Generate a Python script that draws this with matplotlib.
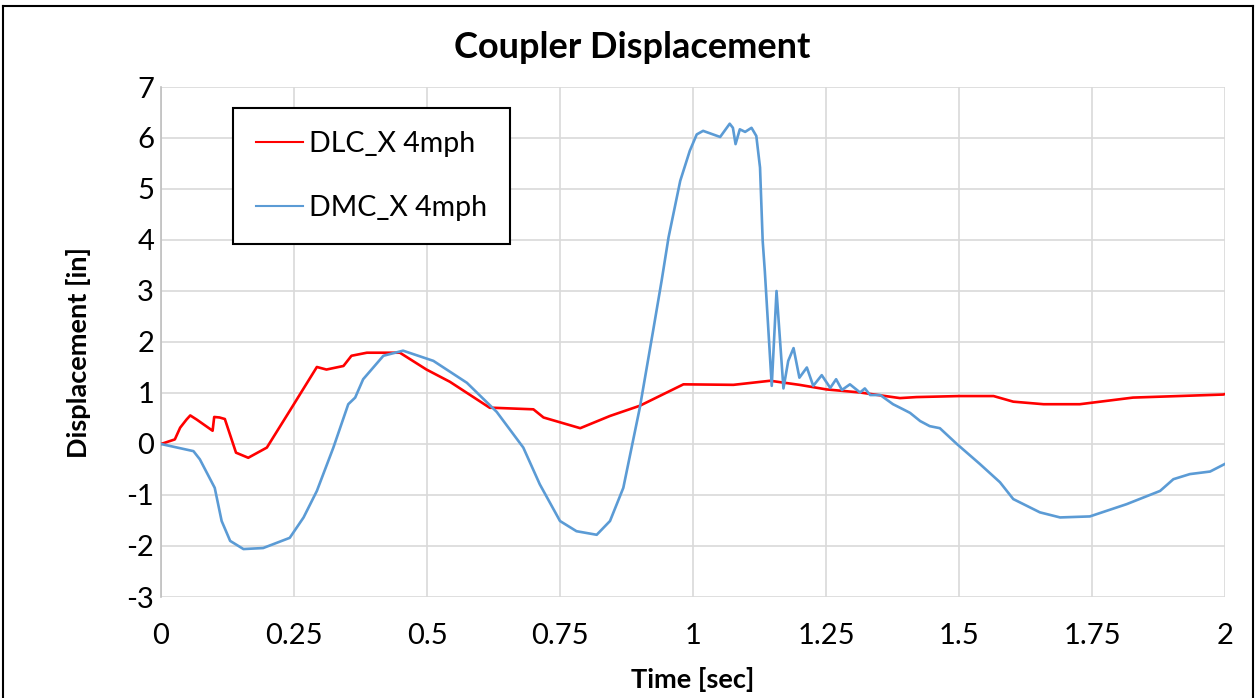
import matplotlib
matplotlib.use("Agg")
import matplotlib.pyplot as plt
from matplotlib.lines import Line2D

plt.rcParams['font.family'] = ['Lato', 'DejaVu Sans']
plt.rcParams['axes.unicode_minus'] = False

# ---- data ----
dlc_t = [0, 0.026, 0.036, 0.048, 0.055, 0.067, 0.097, 0.10, 0.11, 0.12, 0.141, 0.164,
         0.199, 0.242, 0.293, 0.311, 0.343, 0.358, 0.387, 0.449, 0.499, 0.543, 0.618,
         0.625, 0.70, 0.719, 0.788, 0.844, 0.90, 0.982, 1.076, 1.145, 1.20, 1.251,
         1.314, 1.389, 1.42, 1.50, 1.565, 1.602, 1.659, 1.727, 1.827, 1.997, 2.0]
dlc_y = [0, 0.09, 0.32, 0.48, 0.56, 0.48, 0.26, 0.53, 0.52, 0.49, -0.17, -0.27,
         -0.07, 0.65, 1.51, 1.46, 1.53, 1.73, 1.79, 1.79, 1.46, 1.22, 0.71,
         0.71, 0.68, 0.52, 0.31, 0.55, 0.75, 1.17, 1.16, 1.24, 1.16, 1.07,
         1.01, 0.90, 0.92, 0.94, 0.94, 0.83, 0.78, 0.78, 0.91, 0.97, 0.98]

dmc_t = [0, 0.061, 0.073, 0.101, 0.114, 0.13, 0.155, 0.192, 0.242, 0.268, 0.293, 0.324,
         0.352, 0.365, 0.38, 0.418, 0.455, 0.512, 0.575, 0.631, 0.681, 0.712, 0.75,
         0.781, 0.819, 0.844, 0.869, 0.90, 0.925, 0.941, 0.954, 0.976, 0.994, 1.007,
         1.019, 1.051, 1.069, 1.075, 1.080, 1.088, 1.098, 1.110, 1.119, 1.126, 1.131,
         1.135, 1.148, 1.157, 1.17, 1.179, 1.189, 1.200, 1.214, 1.226, 1.242, 1.258,
         1.269, 1.280, 1.295, 1.314, 1.323, 1.333, 1.352, 1.376, 1.395, 1.408, 1.427,
         1.445, 1.464, 1.496, 1.539, 1.577, 1.602, 1.652, 1.690, 1.746, 1.815, 1.878,
         1.903, 1.934, 1.972, 2.0]
dmc_y = [0, -0.14, -0.30, -0.86, -1.51, -1.90, -2.06, -2.04, -1.84, -1.44, -0.92, -0.07,
         0.78, 0.91, 1.27, 1.73, 1.83, 1.63, 1.20, 0.63, -0.07, -0.79, -1.51,
         -1.71, -1.78, -1.51, -0.86, 0.71, 2.22, 3.20, 4.05, 5.16, 5.75, 6.07,
         6.14, 6.02, 6.28, 6.20, 5.88, 6.17, 6.12, 6.20, 6.04, 5.42, 3.98,
         3.39, 1.14, 3.0, 1.09, 1.63, 1.88, 1.30, 1.50, 1.14, 1.35, 1.10,
         1.27, 1.06, 1.17, 1.01, 1.09, 0.96, 0.96, 0.78, 0.68, 0.61, 0.45,
         0.35, 0.31, 0.0, -0.39, -0.75, -1.08, -1.34, -1.44, -1.42, -1.18, -0.92,
         -0.69, -0.59, -0.54, -0.39]

x_ticks = [0, 0.25, 0.5, 0.75, 1, 1.25, 1.5, 1.75, 2]
x_labels = ["0", "0.25", "0.5", "0.75", "1", "1.25", "1.5", "1.75", "2"]
y_ticks = list(range(-3, 8))

series_names = ["DLC_X 4mph", "DMC_X 4mph"]
title = "Coupler Displacement"

# ---- figure ----
W, H = 1257, 698
fig = plt.figure(figsize=(W / 100, H / 100), dpi=100)
ax = fig.add_axes([161 / W, 1 - 597 / H, (1225 - 161) / W, (597 - 87) / H])

ax.plot(dlc_t, dlc_y, color="#FF0000", lw=1.9, label=series_names[0], zorder=3)
ax.plot(dmc_t, dmc_y, color="#5B9BD5", lw=1.9, label=series_names[1], zorder=3)

ax.set_xlim(0, 2)
ax.set_ylim(-3, 7)
ax.set_xticks(x_ticks)
ax.set_xticklabels(x_labels)
ax.set_yticks(y_ticks)
ax.grid(True, color="#d9d9d9", lw=1.2)
ax.set_axisbelow(True)
for s in ["top", "right", "bottom"]:
    ax.spines[s].set_visible(False)
ax.spines["left"].set_color("#bfbfbf")
ax.spines["left"].set_linewidth(1.2)
ax.tick_params(axis="both", length=0, labelsize=21, colors="black")
ax.tick_params(axis="x", pad=19)
ax.tick_params(axis="y", pad=5)

ax.set_xlabel("Time [sec]", fontsize=19.5, fontweight="bold")
ax.xaxis.set_label_coords(0.5, -0.137)
ax.set_ylabel("Displacement [in]", fontsize=19.5, fontweight="bold")
ax.yaxis.set_label_coords(-0.066, 0.48)

fig.text(632 / W, 1 - 48 / H, title, fontsize=26, fontweight="bold",
         ha="center", va="center")

leg = ax.legend(loc="upper left", bbox_to_anchor=((233 - 161) / 1064, (597 - 108) / 510),
                borderaxespad=0, fontsize=20.5, frameon=True, fancybox=False,
                edgecolor="black", framealpha=1, borderpad=0.8, labelspacing=1.35,
                handlelength=1.65, handletextpad=0.22)
leg.get_frame().set_linewidth(1.5)
for h in leg.get_lines():
    h.set_linewidth(1.5)

# outer chart frame
for xs, ys in [((3 / W, 3 / W), (0, 1 - 6 / H)),
               ((3 / W, 1253 / W), (1 - 6 / H, 1 - 6 / H)),
               ((1253 / W, 1253 / W), (1 - 6 / H, 0))]:
    fig.add_artist(Line2D(xs, ys, transform=fig.transFigure, color="black", lw=1.5))

fig.savefig("out.png", dpi=100)
